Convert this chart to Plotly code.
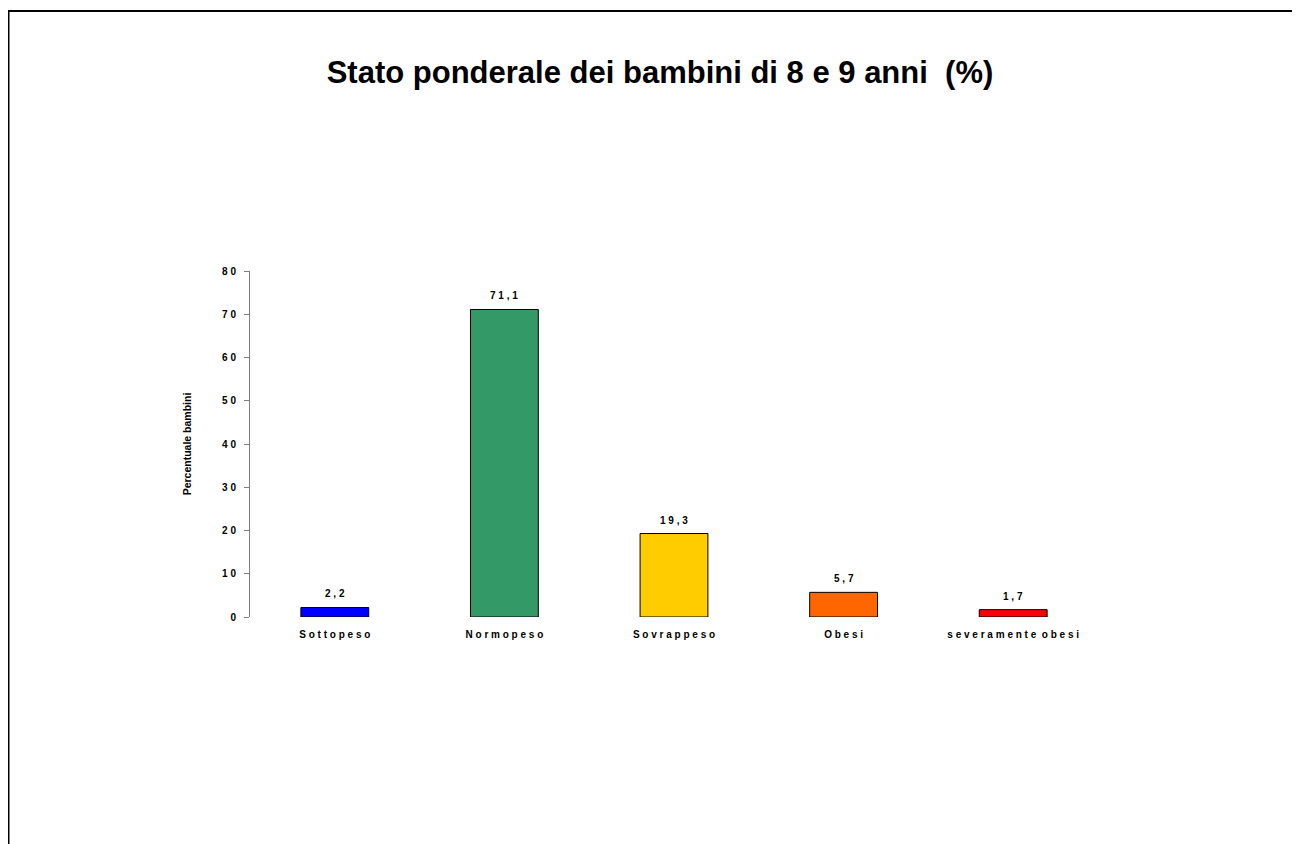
import plotly.graph_objects as go

# data
categorie = ['S o t t o p e s o', 'N o r m o p e s o', 'S o v r a p p e s o',
             'O b e s i', 's e v e r a m e n t e  o b e s i']
percentuali = [2.2, 71.1, 19.3, 5.7, 1.7]
etichette = ['2 , 2', '7 1 , 1', '1 9 , 3', '5 , 7', '1 , 7']
colori = ['#0000FF', '#339966', '#FFCC00', '#FF6600', '#FF0000']
tick_valori = [0, 10, 20, 30, 40, 50, 60, 70, 80]
tick_testi = ['0', '1 0', '2 0', '3 0', '4 0', '5 0', '6 0', '7 0', '8 0']

font_base = dict(family='Liberation Sans, Arial, sans-serif', color='black')

# the page puts the figure 8px in from the top-left corner
W, H = 1292, 836
L, R, T, B = 242, 1090, 263, 609   # plot area in figure pixels

fig = go.Figure()
fig.add_trace(go.Bar(x=categorie, y=percentuali,
                     marker=dict(color=colori, line=dict(color='black', width=1)),
                     width=0.4, hoverinfo='x+y'))

# value labels above the bars
for cat, val, txt in zip(categorie, percentuali, etichette):
    fig.add_annotation(x=cat, y=val, text='<b>' + txt + '</b>', showarrow=False,
                       yanchor='bottom', yshift=6, font=dict(size=10, **font_base))

# frame around the chart (top and left visible, rest beyond the page)
fig.add_shape(type='rect', xref='paper', yref='paper',
              x0=(0.5 - L) / (R - L), x1=1.3, y0=-0.75, y1=(B - 3) / (B - T),
              line=dict(color='black', width=2), layer='below')

fig.update_layout(
    width=W, height=H,
    margin=dict(l=L, r=W - R, t=T, b=H - B),
    paper_bgcolor='white', plot_bgcolor='white',
    showlegend=False,
    title=dict(text='<b>Stato ponderale dei bambini di 8 e 9 anni  (%)</b>',
               x=652 / W, xanchor='center', y=1 - 64 / H, yanchor='middle',
               font=dict(size=31, **font_base)),
    bargap=0.6,
)

fig.update_xaxes(showline=False, showgrid=False, zeroline=False, ticks='',
                 tickfont=dict(size=10, **font_base), ticklabelstandoff=10,
                 tickprefix='<b>', ticksuffix='</b>')
fig.update_yaxes(range=[0, 80], tickvals=tick_valori, ticktext=['<b>' + t + '</b>' for t in tick_testi],
                 showline=True, linecolor='#808080', linewidth=1,
                 ticks='outside', ticklen=5, tickcolor='#808080',
                 showgrid=False, zeroline=False, ticklabelstandoff=6,
                 tickfont=dict(size=10, **font_base),
                 title=dict(text='<b>Percentuale bambini</b>', standoff=28,
                            font=dict(size=10.5, **font_base)))

fig.write_html('out.html')
